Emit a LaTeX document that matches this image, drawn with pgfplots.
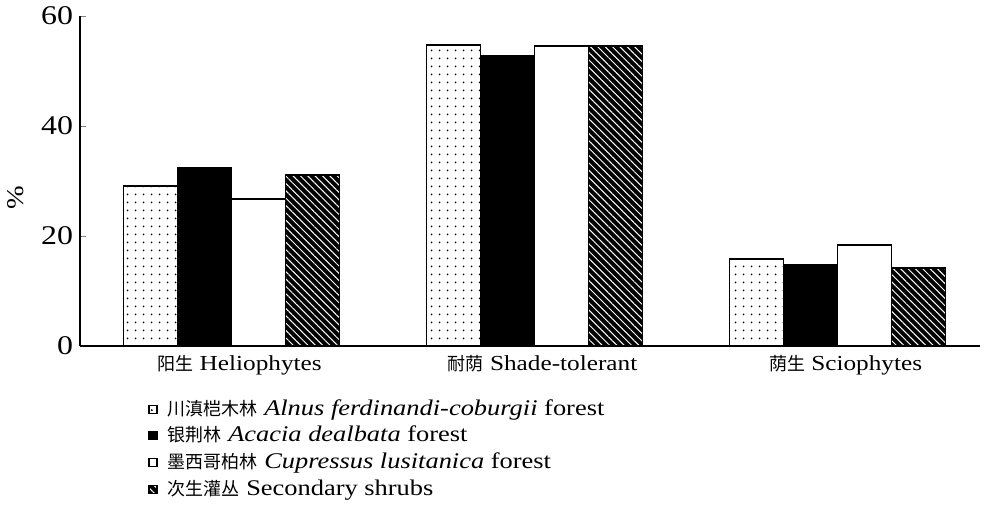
\documentclass[border=0pt]{standalone}
\usepackage{pgfplots}
\pgfplotsset{compat=1.18}
\usetikzlibrary{patterns.meta}
\usepackage{fontspec}
\setmainfont{Liberation Serif}[FakeStretch=1.18]
\newfontfamily\cjk{Noto Sans CJK SC}
\newcommand{\cat}[2]{{\fontsize{9}{10}\selectfont\cjk #1} #2}
\newcommand{\leg}[2]{{\fontsize{9}{10}\selectfont\cjk #1} #2}
\begin{document}
\begin{tikzpicture}
\begin{axis}[
  scale only axis,
  width=450pt, height=165pt,
  ybar=0pt, bar width=27pt,
  xmin=-0.5, xmax=2.47,
  ymin=0, ymax=60,
  ytick={0,20,40,60},
  xtick={0,1,2},
  xticklabels={\cat{阳生}{Heliophytes}, \cat{耐荫}{Shade-tolerant}, \cat{荫生}{Sciophytes}},
  x tick label style={font=\fontsize{10.7}{12}\selectfont, yshift=-1pt, xshift=4pt},
  y tick label style={font=\fontsize{13.5}{15}\selectfont},
  major x tick style={draw=none},
  tick align=inside,
  major tick length=3pt,
  axis lines*=left,
  axis line style={-, line width=1pt},
  ylabel={\%},
  ylabel style={at={(-0.072,0.45)}, anchor=center, font=\fontsize{12}{14}\selectfont},
  /pgf/number format/assume math mode=true,
  legend style={at={(0.0756,-0.16)}, anchor=north west, draw=none,
    font=\fontsize{11.2}{12}\selectfont,
    row sep=2.85pt, inner sep=0pt,
    nodes={text height=8pt, text depth=2.5pt, inner sep=0pt},
    /tikz/every odd column/.append style={column sep=5pt}},
  legend cell align=left,
  legend image code/.code={\draw[#1, line width=0.6pt] (0pt,-1.7pt) rectangle (4pt,2.3pt);},
]
\addplot[draw=black, line width=0.9pt, fill=white, postaction={pattern={Dots[distance=4pt,radius=0.55pt]}, pattern color=black}]
  coordinates {(0,29.1) (1,54.7) (2,15.8)};
\addplot[draw=black, line width=0.9pt, fill=black]
  coordinates {(0,32.4) (1,52.7) (2,14.7)};
\addplot[draw=black, line width=0.9pt, fill=white]
  coordinates {(0,26.7) (1,54.5) (2,18.4)};
\addplot[draw=black, line width=0.9pt, fill=black, postaction={pattern={Lines[angle=-45,distance=2.6pt,line width=0.5pt]}, pattern color=white}]
  coordinates {(0,31.1) (1,54.5) (2,14.2)};
\legend{\leg{川滇桤木林}{\textit{Alnus ferdinandi-coburgii} forest},
        \leg{银荆林}{\textit{Acacia dealbata} forest},
        \leg{墨西哥柏林}{\textit{Cupressus lusitanica} forest},
        \leg{次生灌丛}{Secondary shrubs}}
\end{axis}
\pgfresetboundingbox
\path ([shift={(-40pt,-92pt)}]current axis.south west) rectangle ([shift={(3.5pt,8pt)}]current axis.north east);
\end{tikzpicture}
\end{document}
